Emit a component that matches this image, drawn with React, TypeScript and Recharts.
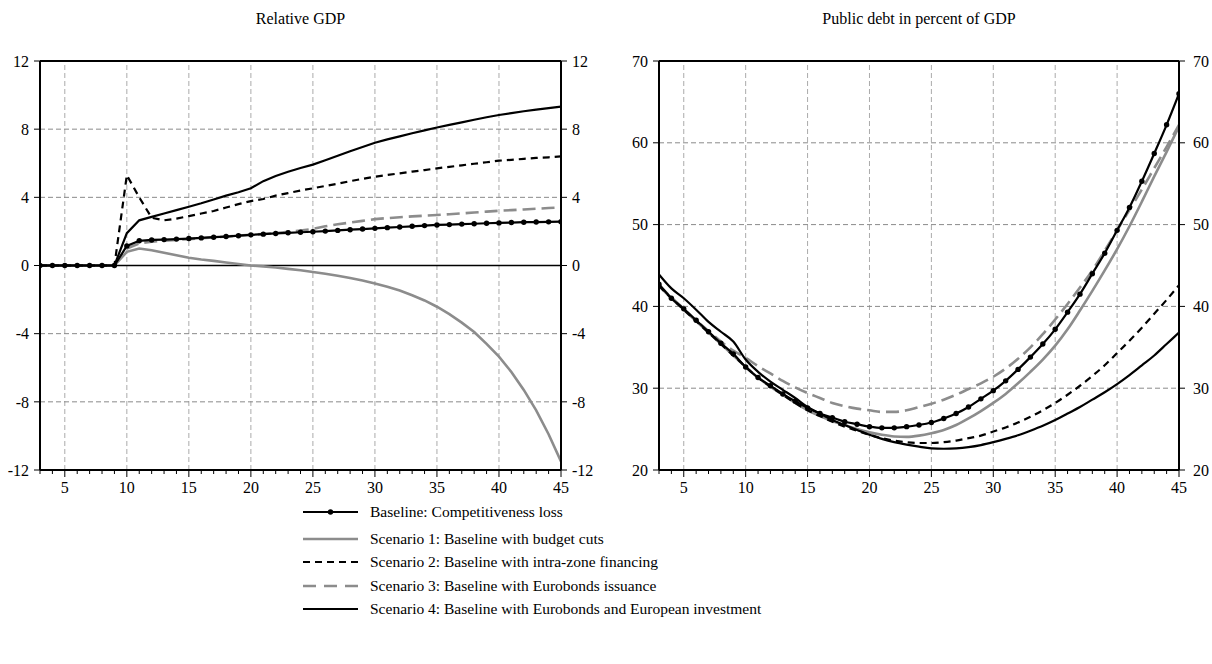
import React from 'react';
import { LineChart, Line, XAxis, YAxis, ReferenceLine } from 'recharts';

const periods = [3, 4, 5, 6, 7, 8, 9, 10, 11, 12, 13, 14, 15, 16, 17, 18, 19, 20, 21, 22, 23, 24, 25, 26, 27, 28, 29, 30, 31, 32, 33, 34, 35, 36, 37, 38, 39, 40, 41, 42, 43, 44, 45];
const xLabelTicks = [5, 10, 15, 20, 25, 30, 35, 40, 45];
const xGridTicks = [5, 10, 15, 20, 25, 30, 35, 40];
const gdpTicks = [-12, -8, -4, 0, 4, 8, 12];
const gdpGrid = [-8, -4, 4, 8];
const debtTicks = [20, 30, 40, 50, 60, 70];
const debtGrid = [30, 40, 50, 60];

const gdpBaseline = [0, 0, 0, 0, 0, 0, 0, 1.15, 1.45, 1.5, 1.52, 1.55, 1.58, 1.62, 1.66, 1.7, 1.75, 1.8, 1.84, 1.88, 1.92, 1.95, 1.98, 2.02, 2.06, 2.1, 2.14, 2.18, 2.22, 2.26, 2.3, 2.34, 2.38, 2.4, 2.43, 2.45, 2.48, 2.5, 2.52, 2.54, 2.55, 2.56, 2.57];
const gdpS1 = [0, 0, 0, 0, 0, 0, 0, 0.8, 1.0, 0.9, 0.75, 0.6, 0.45, 0.35, 0.27, 0.18, 0.09, 0.0, -0.05, -0.12, -0.2, -0.28, -0.38, -0.48, -0.6, -0.73, -0.88, -1.05, -1.25, -1.47, -1.75, -2.05, -2.42, -2.85, -3.35, -3.9, -4.6, -5.35, -6.25, -7.3, -8.5, -9.9, -11.5];
const gdpS2 = [0, 0, 0, 0, 0, 0, 0, 5.3, 4.0, 2.8, 2.65, 2.75, 2.9, 3.05, 3.2, 3.4, 3.6, 3.78, 3.9, 4.1, 4.25, 4.4, 4.53, 4.67, 4.8, 4.95, 5.08, 5.21, 5.31, 5.41, 5.51, 5.6, 5.7, 5.79, 5.88, 5.97, 6.06, 6.15, 6.2, 6.26, 6.31, 6.35, 6.4];
const gdpS3 = [0, 0, 0, 0, 0, 0, 0, 1.0, 1.3, 1.4, 1.45, 1.5, 1.55, 1.6, 1.65, 1.7, 1.75, 1.8, 1.85, 1.9, 1.98, 2.05, 2.15, 2.3, 2.42, 2.52, 2.62, 2.72, 2.78, 2.83, 2.88, 2.92, 2.96, 3.01, 3.06, 3.11, 3.16, 3.21, 3.25, 3.29, 3.33, 3.37, 3.41];
const gdpS4 = [0, 0, 0, 0, 0, 0, 0, 1.9, 2.65, 2.85, 3.05, 3.25, 3.45, 3.65, 3.87, 4.1, 4.3, 4.53, 4.95, 5.25, 5.5, 5.72, 5.92, 6.18, 6.44, 6.7, 6.95, 7.2, 7.4, 7.58, 7.76, 7.93, 8.1, 8.25, 8.4, 8.55, 8.7, 8.83, 8.94, 9.05, 9.15, 9.24, 9.32];

const debtBaseline = [42.7, 41.0, 39.7, 38.3, 36.9, 35.5, 34.2, 32.6, 31.3, 30.3, 29.3, 28.4, 27.6, 26.9, 26.4, 25.9, 25.6, 25.3, 25.15, 25.15, 25.3, 25.5, 25.8, 26.3, 26.9, 27.7, 28.7, 29.7, 30.9, 32.3, 33.8, 35.4, 37.2, 39.3, 41.5, 44.0, 46.5, 49.3, 52.1, 55.3, 58.7, 62.2, 66.0];
const debtS1 = [42.5, 41.0, 39.6, 38.2, 36.8, 35.4, 34.0, 32.6, 31.3, 30.2, 29.2, 28.2, 27.3, 26.6, 26.0, 25.5, 25.0, 24.6, 24.3, 24.1, 24.05, 24.2, 24.5, 24.9, 25.5, 26.3, 27.2, 28.2, 29.3, 30.6, 32.0, 33.5, 35.2, 37.2, 39.5, 41.9, 44.4, 47.0, 49.8, 52.8, 55.9, 58.9, 62.0];
const debtS2 = [42.5, 41.0, 39.6, 38.2, 36.8, 35.4, 34.0, 32.6, 31.3, 30.2, 29.2, 28.2, 27.3, 26.6, 25.9, 25.3, 24.8, 24.3, 23.9, 23.6, 23.4, 23.3, 23.3, 23.4, 23.6, 23.9, 24.2, 24.7, 25.2, 25.8, 26.5, 27.3, 28.2, 29.2, 30.3, 31.5, 32.8, 34.3, 35.8, 37.4, 39.1, 40.8, 42.6];
const debtS3 = [42.6, 41.1, 39.7, 38.3, 37.0, 35.7, 34.6, 33.7, 32.7, 31.8, 30.9, 30.1, 29.4, 28.8, 28.2, 27.8, 27.5, 27.3, 27.1, 27.1, 27.3, 27.7, 28.1, 28.6, 29.2, 29.9, 30.6, 31.4, 32.4, 33.6, 35.0, 36.6, 38.4, 40.3, 42.3, 44.4, 46.8, 49.3, 51.8, 54.3, 56.9, 59.5, 62.2];
const debtS4 = [43.9, 42.2, 41.0, 39.6, 38.1, 36.9, 35.7, 33.5, 32.0, 30.8, 29.8, 28.8, 27.7, 26.9, 26.1, 25.5, 24.9, 24.3, 23.8, 23.4, 23.1, 22.85, 22.65, 22.6, 22.65, 22.8, 23.05, 23.4, 23.8, 24.25, 24.8, 25.4, 26.1, 26.9, 27.7, 28.6, 29.5, 30.5, 31.6, 32.8, 34.0, 35.4, 36.8];

const seriesNames = [
  'Baseline: Competitiveness loss',
  'Scenario 1: Baseline with budget cuts',
  'Scenario 2: Baseline with intra-zone financing',
  'Scenario 3: Baseline with Eurobonds issuance',
  'Scenario 4: Baseline with Eurobonds and European investment',
];

const gdpData = periods.map((t, i) => ({ t, b: gdpBaseline[i], s1: gdpS1[i], s2: gdpS2[i], s3: gdpS3[i], s4: gdpS4[i] }));
const debtData = periods.map((t, i) => ({ t, b: debtBaseline[i], s1: debtS1[i], s2: debtS2[i], s3: debtS3[i], s4: debtS4[i] }));

const FONT = "'Liberation Serif', 'Times New Roman', Times, serif";
const FS = 16;
const GRAY = '#8c8c8c';

const XTick = (props: any) => {
  const { x, y, payload } = props;
  const v = payload.value;
  const major = xLabelTicks.indexOf(v) >= 0;
  return (
    <g>
      <line x1={x} y1={y} x2={x} y2={y + (major ? 7 : 4)} stroke="#000" strokeWidth={1} />
      {major && (
        <text x={x} y={y + 23} textAnchor="middle" style={{ fontFamily: FONT, fontSize: FS }} fill="#000">
          {v}
        </text>
      )}
    </g>
  );
};

const tickStyle = { fontFamily: FONT, fontSize: FS, fill: '#000' };

function renderSeries(yId: string, curve: 'linear' | 'monotone') {
  return [
    <Line key="s1" yAxisId={yId} type={curve} dataKey="s1" stroke={GRAY} strokeWidth={2.6} dot={false} isAnimationActive={false} />,
    <Line key="s3" yAxisId={yId} type={curve} dataKey="s3" stroke={GRAY} strokeWidth={2.6} strokeDasharray="13 6" dot={false} isAnimationActive={false} />,
    <Line key="s2" yAxisId={yId} type={curve} dataKey="s2" stroke="#000" strokeWidth={2.2} strokeDasharray="7 5" dot={false} isAnimationActive={false} />,
    <Line key="s4" yAxisId={yId} type={curve} dataKey="s4" stroke="#000" strokeWidth={2.2} dot={false} isAnimationActive={false} />,
    <Line key="b" yAxisId={yId} type={curve} dataKey="b" stroke="#000" strokeWidth={2.2} dot={{ r: 2.7, fill: '#000', stroke: '#000', strokeWidth: 0 }} isAnimationActive={false} />,
  ];
}

function Chart(props: { data: any[]; domain: [number, number]; ticks: number[]; grid: number[]; width: number; leftW: number; rightW: number; rightMargin: number; curve: 'linear' | 'monotone'; zero?: boolean }) {
  const { data, domain, ticks, grid, width, leftW, rightW, rightMargin, curve, zero } = props;
  return (
    <LineChart width={width} height={500} data={data} margin={{ top: 61, right: 0, bottom: 0, left: 0 }}>
      <XAxis
        dataKey="t"
        type="number"
        domain={[3, 45]}
        ticks={periods}
        interval={0}
        allowDataOverflow
        tickSize={0}
        tickMargin={0}
        tick={<XTick />}
        axisLine={{ stroke: '#000', strokeWidth: 2 }}
        tickLine={false}
        height={30}
      />
      <YAxis
        yAxisId="l"
        orientation="left"
        type="number"
        domain={domain}
        allowDataOverflow
        ticks={ticks}
        interval={0}
        width={leftW}
        tickSize={6}
        tickMargin={5}
        tick={tickStyle}
        axisLine={{ stroke: '#000', strokeWidth: 2 }}
        tickLine={{ stroke: '#000', strokeWidth: 1 }}
      />
      <YAxis
        yAxisId="r"
        orientation="right"
        type="number"
        domain={domain}
        allowDataOverflow
        ticks={ticks}
        interval={0}
        width={rightW}
        tickSize={6}
        tickMargin={rightMargin}
        tick={tickStyle}
        axisLine={{ stroke: '#000', strokeWidth: 2 }}
        tickLine={{ stroke: '#000', strokeWidth: 1 }}
      />
      {xGridTicks.map((v) => (
        <ReferenceLine key={'vx' + v} yAxisId="l" x={v} stroke="#aaaaaa" strokeWidth={1} strokeDasharray="5 3" />
      ))}
      {grid.map((v) => (
        <ReferenceLine key={'hy' + v} yAxisId="l" y={v} stroke="#8a8a8a" strokeWidth={1} strokeDasharray="5 3" />
      ))}
      {zero && <ReferenceLine yAxisId="l" y={0} stroke="#000" strokeWidth={1.3} />}
      <ReferenceLine yAxisId="l" y={domain[1]} stroke="#000" strokeWidth={2} />
      <Line yAxisId="r" dataKey="b" stroke="none" dot={false} activeDot={false} legendType="none" isAnimationActive={false} />
      {renderSeries('l', curve)}
    </LineChart>
  );
}

function LegendRow(props: { idx: number; top: number }) {
  const { idx, top } = props;
  let sample: React.ReactNode = null;
  if (idx === 0) {
    sample = (
      <g>
        <line x1={0} y1={6} x2={55} y2={6} stroke="#000" strokeWidth={2.2} />
        <circle cx={27.5} cy={6} r={2.7} fill="#000" />
      </g>
    );
  } else if (idx === 1) {
    sample = <line x1={0} y1={6} x2={55} y2={6} stroke={GRAY} strokeWidth={2.6} />;
  } else if (idx === 2) {
    sample = <line x1={0} y1={6} x2={55} y2={6} stroke="#000" strokeWidth={2.2} strokeDasharray="7 5" />;
  } else if (idx === 3) {
    sample = <line x1={0} y1={6} x2={55} y2={6} stroke={GRAY} strokeWidth={2.6} strokeDasharray="13 8" />;
  } else {
    sample = <line x1={0} y1={6} x2={55} y2={6} stroke="#000" strokeWidth={2.2} />;
  }
  return (
    <div style={{ position: 'absolute', left: 303, top: top - 10, height: 20, whiteSpace: 'nowrap' }}>
      <svg width={55} height={12} style={{ position: 'absolute', left: 0, top: 4 }}>
        {sample}
      </svg>
      <span style={{ position: 'absolute', left: 67, top: 0, fontFamily: FONT, fontSize: 15.5, lineHeight: '20px', color: '#000' }}>
        {seriesNames[idx]}
      </span>
    </div>
  );
}

const legendTops = [512, 539, 562, 586, 609];

export default function App() {
  return (
    <div style={{ position: 'absolute', left: 0, top: 0, width: 1212, height: 664, overflow: 'hidden', background: '#fff' }}>
      <div style={{ position: 'absolute', left: 0, top: 9, width: 601, textAlign: 'center', fontFamily: FONT, fontSize: FS, lineHeight: '20px' }}>
        Relative GDP
      </div>
      <div style={{ position: 'absolute', left: 659, top: 9, width: 520, textAlign: 'center', fontFamily: FONT, fontSize: FS, lineHeight: '20px' }}>
        Public debt in percent of GDP
      </div>
      <div style={{ position: 'absolute', left: 0, top: 0 }}>
        <Chart data={gdpData} domain={[-12, 12]} ticks={gdpTicks} grid={gdpGrid} width={620} leftW={40} rightW={59} rightMargin={5} curve="linear" zero />
      </div>
      <div style={{ position: 'absolute', left: 600, top: 0 }}>
        <Chart data={debtData} domain={[20, 70]} ticks={debtTicks} grid={debtGrid} width={612} leftW={59} rightW={33} rightMargin={8} curve="monotone" />
      </div>
      {legendTops.map((tp, i) => (
        <LegendRow key={i} idx={i} top={tp} />
      ))}
    </div>
  );
}
